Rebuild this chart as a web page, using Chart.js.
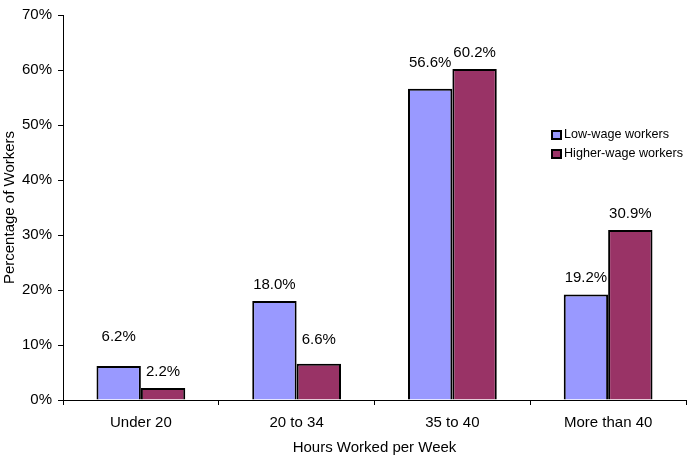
<!DOCTYPE html>
<html>
<head>
<meta charset="utf-8">
<script src="https://cdn.jsdelivr.net/npm/chart.js@4"></script>
<style>
  body { margin: 0; background: #fff; }
  #wrap { width: 692px; height: 460px; }
</style>
</head>
<body>
<div id="wrap"><canvas id="barCanvas"></canvas></div>
<script>
const categories = ["Under 20", "20 to 34", "35 to 40", "More than 40"];
const lowWage = [6.2, 18.0, 56.6, 19.2];
const higherWage = [2.2, 6.6, 60.2, 30.9];
const seriesNames = ["Low-wage workers", "Higher-wage workers"];
const colors = ["#9999FF", "#993366"];

Chart.defaults.font.family = "'Liberation Sans', Arial, sans-serif";
Chart.defaults.font.size = 15;
Chart.defaults.color = "#000";

// value labels above bars, lifted like the original (px above bar top)
const valueLabels = {
  id: "valueLabels",
  afterDatasetsDraw(chart, args, opts) {
    const ctx = chart.ctx;
    ctx.save();
    ctx.font = "15px 'Liberation Sans', Arial, sans-serif";
    ctx.fillStyle = "#000";
    ctx.textAlign = "center";
    ctx.textBaseline = "middle";
    chart.data.datasets.forEach((ds, di) => {
      chart.getDatasetMeta(di).data.forEach((bar, i) => {
        ctx.fillText(ds.data[i].toFixed(1) + "%", bar.x, bar.y - opts.lift[di][i]);
      });
    });
    ctx.restore();
  }
};

// legend drawn inside the plot area, on the right
const boxLegend = {
  id: "boxLegend",
  afterDraw(chart, args, opts) {
    const ctx = chart.ctx;
    ctx.save();
    ctx.font = "12.6px 'Liberation Sans', Arial, sans-serif";
    ctx.textBaseline = "middle";
    chart.data.datasets.forEach((ds, i) => {
      const y = opts.y + i * 19;
      ctx.fillStyle = ds.backgroundColor;
      ctx.fillRect(opts.x, y - 4, 9, 8);
      ctx.lineWidth = 2;
      ctx.strokeStyle = "#000";
      ctx.strokeRect(opts.x, y - 4, 9, 8);
      ctx.fillStyle = "#000";
      ctx.fillText(ds.label, opts.x + 12, y);
    });
    ctx.restore();
  }
};

new Chart(document.getElementById("barCanvas"), {
  type: "bar",
  data: {
    labels: categories,
    datasets: [
      {
        label: seriesNames[0],
        data: lowWage,
        backgroundColor: colors[0],
        borderColor: "#000",
        borderWidth: 2,
        inflateAmount: 0,
      },
      {
        label: seriesNames[1],
        data: higherWage,
        backgroundColor: colors[1],
        borderColor: "#000",
        borderWidth: 2,
        inflateAmount: 0,
      },
    ],
  },
  plugins: [valueLabels, boxLegend],
  options: {
    responsive: true,
    maintainAspectRatio: false,
    animation: false,
    layout: { padding: { top: 14, right: 6, bottom: 0, left: 0 } },
    datasets: { bar: { categoryPercentage: 0.57, barPercentage: 1 } },
    plugins: {
      legend: { display: false },
      tooltip: { enabled: false },
      valueLabels: { lift: [[29, 16, 26, 17], [16, 24, 16, 16]] },
      boxLegend: { x: 552, y: 135 },
    },
    scales: {
      x: {
        grid: { drawOnChartArea: false, offset: true, tickLength: 5, color: "#000" },
        border: { color: "#000", width: 1 },
        ticks: { padding: 9, maxRotation: 0 },
        title: { display: true, text: "Hours Worked per Week", padding: { top: 0, bottom: 3 } },
        afterFit(scale) { scale.height = 60; },
      },
      y: {
        min: 0,
        max: 70,
        grid: { drawOnChartArea: false, tickLength: 5, color: "#000" },
        border: { color: "#000", width: 1 },
        ticks: { stepSize: 10, padding: 6, callback: (v) => v + "%" },
        title: { display: true, text: "Percentage of Workers", padding: { top: 1, bottom: 0 } },
        afterFit(scale) { scale.width = 63; },
      },
    },
  },
});
</script>
</body>
</html>
